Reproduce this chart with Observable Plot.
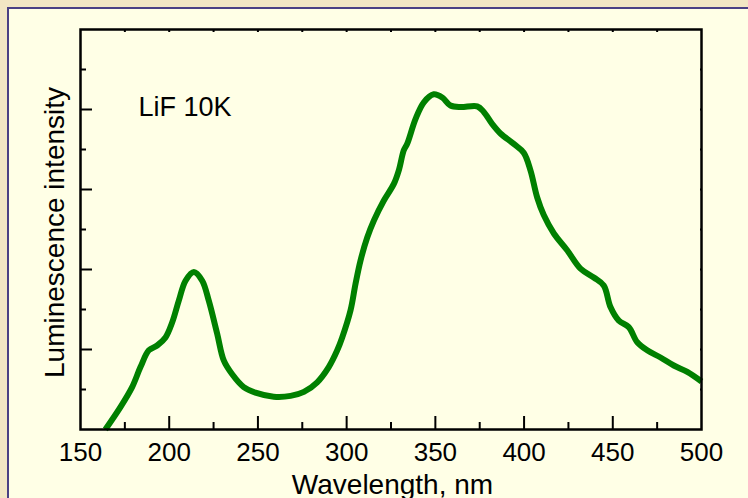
<!DOCTYPE html>
<html>
<head>
<meta charset="utf-8">
<script src="https://cdn.jsdelivr.net/npm/d3@7"></script>
<script src="https://cdn.jsdelivr.net/npm/@observablehq/plot@0.6"></script>
<style>
  html, body { margin: 0; padding: 0; background: #f2e6c4; }
  #wrap { position: relative; width: 748px; height: 498px; overflow: hidden; background: #f2e6c4; }
  #panel { position: absolute; left: 7px; top: 7px; right: -4px; bottom: -4px; background: #ffffe6;
           border-left: 2px solid #4a4084; border-top: 2px solid #4a4084; }
  #chart { position: absolute; left: 0; top: 0; }
</style>
</head>
<body>
<div id="wrap"><div id="panel"></div><div id="chart"></div></div>
<script>
// Wavelength (nm)
const wavelength = [164, 172.5, 179.1, 183.8, 188.5, 193.2, 197.9, 201.7, 205.4, 209.2, 213.9, 218.6, 222.3, 227.0, 230.8, 235.5, 242.0, 248.6, 258.9, 268.4, 275.9, 283.4, 289.9, 294.7, 297.5, 302.2, 305.0, 307.8, 311.6, 315.3, 320.9, 326.6, 329.4, 332.2, 334.1, 338.8, 343.5, 349.1, 353.9, 358.5, 364.2, 373.6, 377.3, 382.0, 386.7, 394.2, 399.8, 403.6, 407.4, 411.1, 416.8, 424.3, 431.8, 439.3, 444.9, 448.7, 453.4, 459.0, 463.8, 469.4, 476.9, 484.4, 492.0, 500];
// Luminescence intensity (arb. units)
const intensity = [0.0, 0.28, 0.53, 0.78, 0.99, 1.05, 1.15, 1.34, 1.61, 1.86, 1.97, 1.86, 1.61, 1.20, 0.86, 0.69, 0.53, 0.46, 0.41, 0.42, 0.47, 0.59, 0.78, 0.99, 1.15, 1.49, 1.82, 2.11, 2.40, 2.61, 2.86, 3.07, 3.24, 3.49, 3.57, 3.88, 4.09, 4.19, 4.15, 4.05, 4.03, 4.04, 3.97, 3.82, 3.70, 3.57, 3.46, 3.24, 2.90, 2.68, 2.45, 2.24, 2.01, 1.90, 1.80, 1.53, 1.36, 1.28, 1.09, 0.99, 0.90, 0.80, 0.72, 0.60];

const xTickLabels = [150, 200, 250, 300, 350, 400, 450, 500];
const xMajorTicks = [200, 250, 300, 350, 400, 450];
const xMinorTicks = [175, 225, 275, 325, 375, 425, 475];
const xAllTicks = [175, 200, 225, 250, 275, 300, 325, 350, 375, 400, 425, 450, 475];
const yMajorTicks = [1, 2, 3, 4];
const yMinorTicks = [0.5, 1.5, 2.5, 3.5, 4.5];
const yAllTicks = [0.5, 1, 1.5, 2, 2.5, 3, 3.5, 4, 4.5];

const xLabel = "Wavelength, nm";
const yLabel = "Luminescence intensity";
const annotation = "LiF 10K";

const data = wavelength.map((w, i) => ({w, v: intensity[i]}));
const noText = () => "";

const chart = Plot.plot({
  width: 748,
  height: 498,
  marginLeft: 80,
  marginRight: 47,
  marginTop: 29,
  marginBottom: 69,
  style: {background: "transparent", fontFamily: "'Liberation Sans', Arial, sans-serif", color: "black", overflow: "visible"},
  x: {domain: [150, 500]},
  y: {domain: [0, 5]},
  marks: [
    Plot.line(data, {x: "w", y: "v", stroke: "#008000", strokeWidth: 6, strokeLinejoin: "round", strokeLinecap: "butt", curve: "catmull-rom"}),
    Plot.frame({stroke: "black", strokeWidth: 2.5}),
    Plot.axisX(xMajorTicks, {tickSize: -13, strokeWidth: 2, fill: "none", tickFormat: noText, label: null}),
    Plot.axisX(xMinorTicks, {tickSize: -7, strokeWidth: 2, fill: "none", tickFormat: noText, label: null}),
    Plot.axisX(xAllTicks, {anchor: "top", tickSize: -2, strokeWidth: 2, fill: "none", tickFormat: noText, label: null}),
    Plot.axisX(xTickLabels, {tickSize: 0, tickPadding: 13, fontSize: 26, label: null}),
    Plot.axisY(yMajorTicks, {tickSize: -12, strokeWidth: 2, fill: "none", tickFormat: noText, label: null}),
    Plot.axisY(yMinorTicks, {tickSize: -6, strokeWidth: 2, fill: "none", tickFormat: noText, label: null}),
    Plot.axisY(yAllTicks, {anchor: "right", tickSize: -2, strokeWidth: 2, fill: "none", tickFormat: noText, label: null}),
    Plot.text([xLabel], {frameAnchor: "bottom", textAnchor: "middle", lineAnchor: "bottom", dy: 64, dx: 1.5, fontSize: 28, fill: "black"}),
    Plot.text([yLabel], {frameAnchor: "left", rotate: -90, textAnchor: "middle", lineAnchor: "bottom", dx: -17, dy: 3, fontSize: 28, fill: "black"}),
    Plot.text([annotation], {x: 182.7, y: 3.92, textAnchor: "start", lineAnchor: "bottom", fontSize: 27, fill: "black"})
  ]
});
document.getElementById("chart").appendChild(chart);
</script>
</body>
</html>
